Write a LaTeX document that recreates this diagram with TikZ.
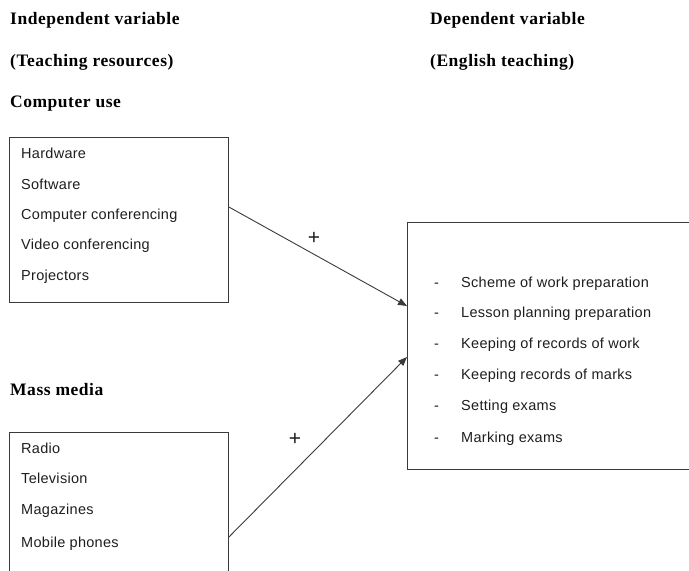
\documentclass[tikz,border=0pt]{standalone}
\usepackage{fontspec}
\setmainfont{Liberation Sans}
\newfontfamily\headfont[LetterSpace=3]{Liberation Serif}
\newfontfamily\itemfont[LetterSpace=2]{Liberation Sans}
\usetikzlibrary{calc,arrows.meta}
\definecolor{linegray}{HTML}{3A3A3A}
\definecolor{textgray}{HTML}{1E1E1E}
\begin{document}
\begin{tikzpicture}[x=1pt,y=-1pt,
  head/.style={anchor=base west,inner sep=0pt,font=\headfont\bfseries\fontsize{17.5}{19}\selectfont,text=black},
  item/.style={anchor=base west,inner sep=0pt,font=\itemfont\fontsize{14.5}{16}\selectfont,text=textgray},
  box/.style={draw=linegray,line width=0.9pt,anchor=north west,inner sep=0pt},
  conn/.style={draw=linegray,line width=0.9pt,-{Triangle[length=9pt,width=7pt]}},
  plus/.style={inner sep=0pt,font=\fontsize{21}{22}\selectfont,text=textgray}]
\useasboundingbox (0,0) rectangle (689,571);
\clip (0,0) rectangle (689,571);
% headings
\node[head] (h1) at (10,24) {Independent variable};
\node[head] (h2) at (10,66) {(Teaching resources)};
\node[head] (h3) at (10,107) {Computer use};
\node[head] (h4) at (430,24) {Dependent variable};
\node[head] (h5) at (430,66) {(English teaching)};
\node[head] (h6) at (10,395) {Mass media};
% boxes
\node[box,minimum width=219pt,minimum height=165pt] (cu) at (9,137) {};
\node[box,minimum width=300pt,minimum height=247pt] (dv) at (407,222) {};
\node[box,minimum width=219pt,minimum height=170pt] (mm) at (9,432) {};
% computer use items
\node[item] (c1) at (21,158) {Hardware};
\node[item] (c2) at (21,189) {Software};
\node[item] (c3) at (21,219) {Computer conferencing};
\node[item] (c4) at (21,249) {Video conferencing};
\node[item] (c5) at (21,280) {Projectors};
% dependent items
\foreach \y/\t [count=\i] in {287/Scheme of work preparation,317/Lesson planning preparation,348/Keeping of records of work,379/Keeping records of marks,410/Setting exams,442/Marking exams}{
  \node[item] (dd\i) at (434,\y) {-};
  \node[item] (d\i) at (461,\y) {\t};
}
% mass media items
\node[item] (m1) at (21,453) {Radio};
\node[item] (m2) at (21,483) {Television};
\node[item] (m3) at (21,514) {Magazines};
\node[item] (m4) at (21,547) {Mobile phones};
% connectors
\coordinate (s1) at ($(cu.north east)+(0,70)$);
\coordinate (e1) at ($(dv.north west)+(0,84)$);
\coordinate (s2) at ($(mm.north east)+(0,105)$);
\coordinate (e2) at ($(dv.north west)+(0,135)$);
\draw[conn] (s1) -- (e1);
\draw[conn] (s2) -- (e2);
\node[plus] (p1) at (314,238) {+};
\node[plus] (p2) at (295,439) {+};
\end{tikzpicture}
\end{document}
